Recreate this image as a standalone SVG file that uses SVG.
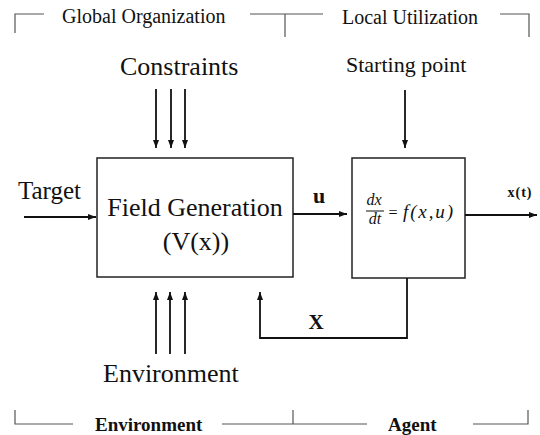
<svg xmlns="http://www.w3.org/2000/svg" width="540" height="435" viewBox="0 0 540 435" font-family="'Liberation Serif', 'Times New Roman', 'DejaVu Serif', serif">
<defs>
<marker id="ah" viewBox="0 0 8 6" refX="8" refY="3" markerWidth="8" markerHeight="6" markerUnits="userSpaceOnUse" orient="auto">
<path d="M0,0 L8,3 L0,6 Z" fill="#111"/>
</marker>
<style>
text{fill:#111}
.lbl{font-size:20px}
.big{font-size:26px}
.bot{font-size:19px;font-weight:bold}
.br{fill:none;stroke:#555;stroke-width:1.2}
.box{fill:#fff;stroke:#222;stroke-width:1.5}
.ln{fill:none;stroke:#111;stroke-width:1.8;marker-end:url(#ah)}
.it{font-style:italic}
</style>
</defs>
<rect width="540" height="435" fill="#fff"/>
<g id="brackets">
<path class="br" d="M15,33 V14 H44 M250,14 H323 M285,14 V37 M500,14 H529 V37"/>
<path class="br" d="M15,410 V424 H73 M222,424 H367 M293,424 V410 M473,424 H528 V410"/>
<text class="lbl" x="62" y="23">Global Organization</text>
<text class="lbl" x="342" y="24">Local Utilization</text>
<text class="bot" x="95" y="431">Environment</text>
<text class="bot" x="388" y="431">Agent</text>
</g>
<g id="constraints">
<text class="big" x="120" y="75">Constraints</text>
</g>
<g id="starting-point">
<text x="346" y="72" font-size="22">Starting point</text>
</g>
<g id="target">
<text x="18" y="199" font-size="25">Target</text>
</g>
<g id="environment">
<text class="big" x="103" y="382">Environment</text>
</g>
<g id="field-generation">
<rect class="box" x="97" y="158" width="196" height="119"/>
<text class="big" x="195" y="216" text-anchor="middle">Field Generation</text>
<text class="big" x="196" y="250" text-anchor="middle">(V(x))</text>
</g>
<g id="agent-dynamics">
<rect class="box" x="352" y="158" width="113" height="120"/>
<text class="it" x="374" y="205" text-anchor="middle" font-size="16">dx</text>
<line x1="366" y1="211" x2="384" y2="211" stroke="#111" stroke-width="1"/>
<text class="it" x="375" y="224" text-anchor="middle" font-size="16">dt</text>
<text x="393" y="218" text-anchor="middle" font-size="16">=</text>
<text class="it" x="403" y="218" font-size="19" textLength="50">f(x,u)</text>
</g>
<g id="connectors">
<path class="ln" d="M156,89 V148"/>
<path class="ln" d="M171,89 V148"/>
<path class="ln" d="M185,89 V148"/>
<path class="ln" d="M405,90 V148"/>
<path class="ln" d="M24,217 H96"/>
<path class="ln" d="M293,214 H347"/>
<path class="ln" d="M465,215 H537"/>
<path class="ln" d="M156,354 V292"/>
<path class="ln" d="M170,354 V292"/>
<path class="ln" d="M185,354 V292"/>
<path class="ln" d="M407,278 V338 H260 V292"/>
<text x="319" y="203" text-anchor="middle" font-size="22" font-weight="bold">u</text>
<text x="316" y="329" text-anchor="middle" font-size="21" font-weight="bold">X</text>
<text x="520" y="197" text-anchor="middle" font-size="14" font-weight="bold" letter-spacing="1">x(t)</text>
</g>
</svg>
